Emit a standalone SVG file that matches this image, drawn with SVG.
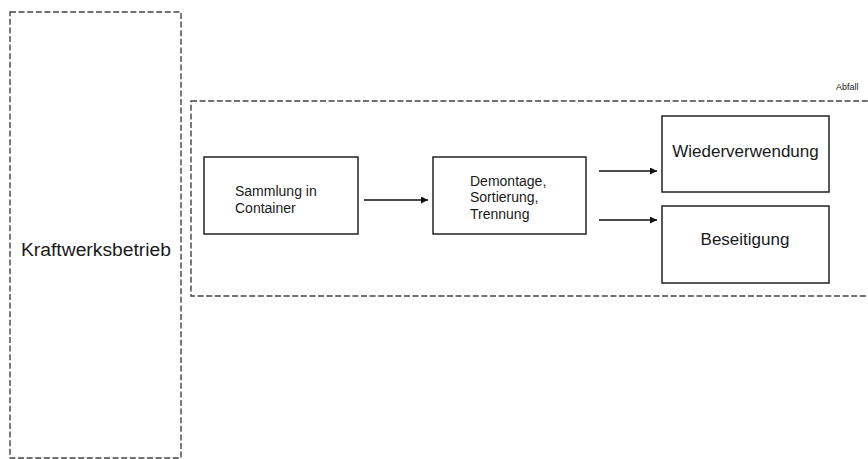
<svg xmlns="http://www.w3.org/2000/svg" width="868" height="459" viewBox="0 0 868 459">
  <style>
    .frame { fill: none; stroke: #444; stroke-width: 1.4; stroke-dasharray: 6 2.6; }
    .box { fill: #fff; stroke: #222; stroke-width: 1.5; }
    .lbl { font-family: "Liberation Sans", Arial, sans-serif; fill: #1a1a1a; }
    .conn { stroke: #111; stroke-width: 1.4; fill: none; marker-end: url(#arrow); }
  </style>
  <defs>
    <marker id="arrow" viewBox="0 0 10 10" refX="10" refY="5" markerWidth="7" markerHeight="7" markerUnits="userSpaceOnUse" orient="auto">
      <path d="M0,0 L10,5 L0,10 z" fill="#111"/>
    </marker>
  </defs>
  <rect width="868" height="459" fill="#fff"/>

  <!-- power plant operation column -->
  <g id="kraftwerksbetrieb">
    <rect class="frame" x="10" y="12" width="171" height="446"/>
    <text class="lbl" x="21" y="256" font-size="18" textLength="150" lengthAdjust="spacingAndGlyphs">Kraftwerksbetrieb</text>
  </g>

  <!-- waste handling band -->
  <g id="abfall">
    <rect class="frame" x="191" y="101" width="700" height="195"/>
    <text class="lbl" x="836" y="90" font-size="9">Abfall</text>
  </g>

  <g id="sammlung">
    <rect class="box" x="204" y="157" width="154" height="77"/>
    <text class="lbl" font-size="14"><tspan x="235" y="196">Sammlung in</tspan><tspan x="235" y="212.5">Container</tspan></text>
  </g>

  <g id="demontage">
    <rect class="box" x="433" y="157" width="153" height="77"/>
    <text class="lbl" font-size="14"><tspan x="470" y="185.5">Demontage,</tspan><tspan x="470" y="202">Sortierung,</tspan><tspan x="470" y="218.5">Trennung</tspan></text>
  </g>

  <g id="wiederverwendung">
    <rect class="box" x="662" y="116" width="167" height="76"/>
    <text class="lbl" x="745.5" y="157" font-size="17" text-anchor="middle">Wiederverwendung</text>
  </g>

  <g id="beseitigung">
    <rect class="box" x="662" y="206" width="167" height="77"/>
    <text class="lbl" x="745" y="245" font-size="17" text-anchor="middle">Beseitigung</text>
  </g>

  <g id="connectors">
    <line class="conn" x1="364" y1="200" x2="428" y2="200"/>
    <line class="conn" x1="599" y1="171" x2="657" y2="171"/>
    <line class="conn" x1="599" y1="220" x2="657" y2="220"/>
  </g>
</svg>
